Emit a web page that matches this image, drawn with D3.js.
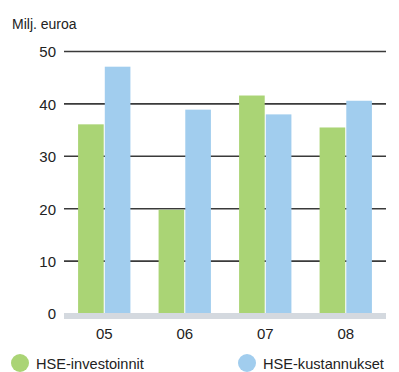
<!DOCTYPE html>
<html><head><meta charset="utf-8">
<script src="https://cdn.jsdelivr.net/npm/d3@7"></script>
<style>body{margin:0;background:#fff}svg{display:block}text{font-family:"Liberation Sans",Arial,sans-serif;fill:#222}</style>
</head><body><svg id="c" width="399" height="372"></svg>
<script>
const categories = ["05","06","07","08"];
const investoinnit = [36.1, 19.8, 41.6, 35.5];
const kustannukset = [47.1, 38.9, 38.0, 40.6];
const seriesNames = ["HSE-investoinnit","HSE-kustannukset"];
const colors = ["#aad475","#a1cdee"];
const yTicks = [0,10,20,30,40,50];

const svg = d3.select("#c");
const x = d3.scaleBand().domain(categories).range([64,386]).paddingInner(0.35).paddingOuter(0.175);
const y = d3.scaleLinear().domain([0,50]).range([313.5,51.5]);
const xs = d3.scaleBand().domain([0,1]).range([0, x.bandwidth()]).paddingInner(0.04);

// gridlines
svg.append("g").selectAll("line").data(yTicks.filter(d=>d>0)).join("line")
  .attr("x1",64).attr("x2",386).attr("y1",d=>y(d)).attr("y2",d=>y(d))
  .attr("stroke","#3a3a3a").attr("stroke-width",1.6);
// tick labels
const yAxis = d3.axisLeft(y).tickValues(yTicks).tickSize(0).tickPadding(0);
const ga = svg.append("g").attr("transform","translate(56,0)").call(yAxis);
ga.select(".domain").remove();
ga.selectAll("text").attr("font-size",15).attr("fill","#222").attr("dy","0.36em")
  .style("font-family",'"Liberation Sans",Arial,sans-serif');

const data = categories.map((c,i)=>({c, v:[investoinnit[i], kustannukset[i]]}));
const g = svg.append("g");
data.forEach(d=>{
  d.v.forEach((v,j)=>{
    g.append("rect").attr("x",x(d.c)+xs(j)).attr("width",xs.bandwidth())
      .attr("y",y(v)).attr("height",y(0)-y(v)).attr("fill",colors[j]);
  });
});
// baseline band
svg.append("rect").attr("x",64).attr("width",322).attr("y",y(0)-0.5).attr("height",6).attr("fill","#d4d9df");

// x labels
const xAxis = d3.axisBottom(x).tickSize(0).tickPadding(0);
const gx = svg.append("g").attr("transform","translate(0,328)").call(xAxis);
gx.select(".domain").remove();
gx.selectAll("text").attr("font-size",15).attr("fill","#222")
  .style("font-family",'"Liberation Sans",Arial,sans-serif');

// title
svg.append("text").attr("x",12).attr("y",29).attr("font-size",14).text("Milj. euroa");

// legend
const lx = [20, 247];
seriesNames.forEach((n,j)=>{
  svg.append("circle").attr("cx",lx[j]).attr("cy",363).attr("r",9).attr("fill",colors[j]);
  svg.append("text").attr("x",lx[j]+16).attr("y",368.5).attr("font-size",14.6).text(n);
});
</script></body></html>
